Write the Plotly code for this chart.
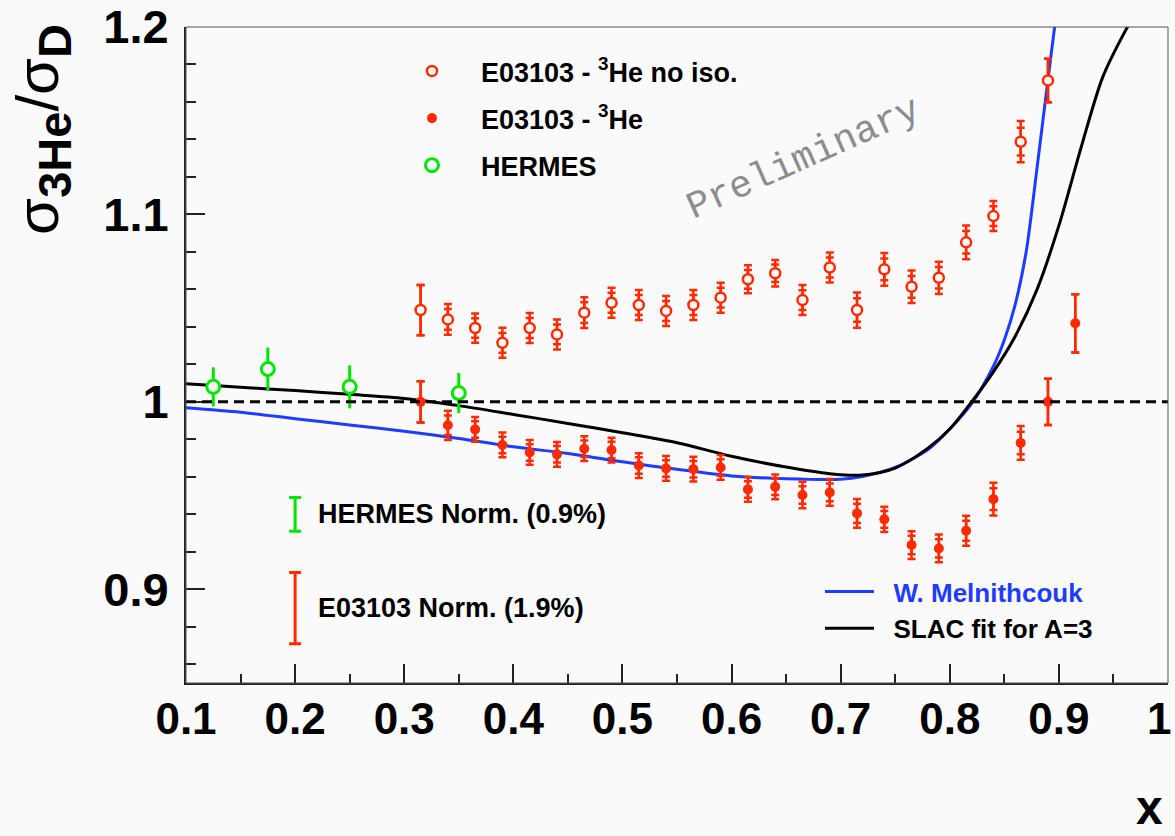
import plotly.graph_objects as go

# ---------------- data ----------------
x_e03103 = [0.315, 0.34, 0.365, 0.39, 0.415, 0.44, 0.465, 0.49, 0.515, 0.54, 0.565, 0.59,
            0.615, 0.64, 0.665, 0.69, 0.715, 0.74, 0.765, 0.79, 0.815, 0.84, 0.865, 0.89]
noiso_y = [1.049, 1.044, 1.0394, 1.0315, 1.0394, 1.036, 1.0476, 1.0529, 1.0517, 1.0485, 1.0517, 1.0556,
           1.0654, 1.0686, 1.0543, 1.0717, 1.049, 1.0707, 1.0614, 1.0662, 1.0851, 1.0991, 1.1388, 1.1715]
noiso_err_tot = [0.0134, 0.0082, 0.0078, 0.008, 0.008, 0.008, 0.0082, 0.008, 0.008, 0.008, 0.008, 0.008,
                 0.0075, 0.0071, 0.008, 0.008, 0.0094, 0.0087, 0.0087, 0.0086, 0.009, 0.008, 0.011, 0.0116]
noiso_err_stat = [0.0134, 0.0055, 0.0052, 0.0053, 0.0053, 0.0053, 0.0055, 0.0053, 0.0053, 0.0053, 0.0053, 0.0053,
                  0.005, 0.0047, 0.0053, 0.0053, 0.0063, 0.0058, 0.0058, 0.0057, 0.006, 0.0053, 0.0074, 0.0116]

x_he3 = [0.315, 0.34, 0.365, 0.39, 0.415, 0.44, 0.465, 0.49, 0.515, 0.54, 0.565, 0.59,
         0.615, 0.64, 0.665, 0.69, 0.715, 0.74, 0.765, 0.79, 0.815, 0.84, 0.865, 0.89, 0.915]
he3_y = [1.0, 0.9875, 0.9853, 0.977, 0.973, 0.972, 0.975, 0.9743, 0.966, 0.9645, 0.9641, 0.965,
         0.9533, 0.9547, 0.9503, 0.9517, 0.9405, 0.9373, 0.9236, 0.9218, 0.9312, 0.9481, 0.9781, 1.0, 1.0419]
he3_err_tot = [0.011, 0.0078, 0.0066, 0.0066, 0.0066, 0.0066, 0.0066, 0.0066, 0.0066, 0.0066, 0.0066, 0.0066,
               0.0066, 0.0066, 0.0071, 0.0071, 0.0077, 0.0068, 0.0074, 0.0074, 0.008, 0.0087, 0.009, 0.0123, 0.0155]
he3_err_stat = [0.011, 0.0052, 0.0044, 0.0044, 0.0044, 0.0044, 0.0044, 0.0044, 0.0044, 0.0044, 0.0044, 0.0044,
                0.0044, 0.0044, 0.0047, 0.0047, 0.0051, 0.0045, 0.0049, 0.0049, 0.0053, 0.0058, 0.006, 0.0123, 0.0155]

x_hermes = [0.125, 0.175, 0.25, 0.35]
hermes_y = [1.008, 1.0175, 1.008, 1.0047]
hermes_err = [0.0104, 0.0115, 0.0115, 0.0107]

x_melni = [0.10, 0.15, 0.20, 0.25, 0.30, 0.35, 0.40, 0.45, 0.50, 0.55, 0.60, 0.65, 0.70, 0.72,
           0.75, 0.78, 0.80, 0.82, 0.84, 0.85, 0.86, 0.87, 0.88, 0.89, 0.90]
melni_y = [0.9969, 0.9945, 0.991, 0.9877, 0.9843, 0.9805, 0.976, 0.9725, 0.968, 0.964, 0.9605, 0.959, 0.9587,
           0.9602, 0.965, 0.9745, 0.9855, 0.999, 1.019, 1.033, 1.052, 1.08, 1.125, 1.172, 1.218]

x_slac = [0.10, 0.15, 0.20, 0.25, 0.30, 0.35, 0.40, 0.45, 0.50, 0.55, 0.60, 0.65, 0.69, 0.72,
          0.75, 0.78, 0.80, 0.82, 0.84, 0.86, 0.88, 0.90, 0.92, 0.94, 0.96, 0.97]
slac_y = [1.0096, 1.0078, 1.006, 1.004, 1.0018, 0.998, 0.9933, 0.9885, 0.9835, 0.9782, 0.971, 0.9652, 0.9617,
          0.961, 0.9647, 0.9753, 0.9855, 1.0, 1.016, 1.035, 1.060, 1.094, 1.135, 1.173, 1.197, 1.207]

norm_x = [0.2, 0.2]
norm_y = [0.94, 0.89]
norm_err = [0.009, 0.019]
norm_labels = ["HERMES Norm. (0.9%)", "E03103 Norm. (1.9%)"]

x_ticks = [0.1, 0.2, 0.3, 0.4, 0.5, 0.6, 0.7, 0.8, 0.9, 1.0]
x_ticktext = ["0.1", "0.2", "0.3", "0.4", "0.5", "0.6", "0.7", "0.8", "0.9", "1"]
y_ticks = [0.9, 1.0, 1.1, 1.2]
y_ticktext = ["0.9", "1", "1.1", "1.2"]

# ---------------- style ----------------
RED = "#ff2a00"
GREEN = "#00e600"
BLUE = "#1e3cff"
BG = "#fafafa"
FONT = "Liberation Sans"
NB = "\u00a0"

fig = go.Figure()

# curves
fig.add_trace(go.Scatter(x=x_melni, y=melni_y, mode="lines",
                         line=dict(color=BLUE, width=3, shape="spline", smoothing=0.8),
                         name=NB * 2 + "<span style='color:%s'>W. Melnithcouk</span>" % BLUE, legend="legend2"))
fig.add_trace(go.Scatter(x=x_slac, y=slac_y, mode="lines",
                         line=dict(color="black", width=3, shape="spline", smoothing=0.8),
                         name=NB * 2 + "SLAC fit for A=3", legend="legend2"))

inv = dict(size=2, color="rgba(0,0,0,0)")
# error bars (no iso)
fig.add_trace(go.Scatter(x=x_e03103, y=noiso_y, mode="markers", marker=inv, showlegend=False,
                         error_y=dict(type="data", array=noiso_err_tot, color=RED, thickness=2.5, width=4)))
fig.add_trace(go.Scatter(x=x_e03103, y=noiso_y, mode="markers", marker=inv, showlegend=False,
                         error_y=dict(type="data", array=noiso_err_stat, color=RED, thickness=2.5, width=4)))
# error bars (3He)
fig.add_trace(go.Scatter(x=x_he3, y=he3_y, mode="markers", marker=inv, showlegend=False,
                         error_y=dict(type="data", array=he3_err_tot, color=RED, thickness=2.5, width=4)))
fig.add_trace(go.Scatter(x=x_he3, y=he3_y, mode="markers", marker=inv, showlegend=False,
                         error_y=dict(type="data", array=he3_err_stat, color=RED, thickness=2.5, width=4)))
# error bars HERMES
fig.add_trace(go.Scatter(x=x_hermes, y=hermes_y, mode="markers", marker=inv, showlegend=False,
                         error_y=dict(type="data", array=hermes_err, color=GREEN, thickness=3, width=0)))
# normalisation bars
fig.add_trace(go.Scatter(x=norm_x[:1], y=norm_y[:1], mode="markers", marker=inv, showlegend=False,
                         error_y=dict(type="data", array=norm_err[:1], color=GREEN, thickness=3, width=6)))
fig.add_trace(go.Scatter(x=norm_x[1:], y=norm_y[1:], mode="markers", marker=inv, showlegend=False,
                         error_y=dict(type="data", array=norm_err[1:], color=RED, thickness=3, width=6)))

# markers (legend entries)
fig.add_trace(go.Scatter(x=x_e03103, y=noiso_y, mode="markers", legendgroup="a",
                         marker=dict(symbol="circle", size=10, color=BG, line=dict(color=RED, width=2.5)),
                         name="E03103 - <sup>3</sup>He no iso.", legend="legend"))
fig.add_trace(go.Scatter(x=x_he3, y=he3_y, mode="markers", legendgroup="b",
                         marker=dict(symbol="circle", size=10, color=RED, line=dict(color=RED, width=0)),
                         name="E03103 - <sup>3</sup>He", legend="legend"))
fig.add_trace(go.Scatter(x=x_hermes, y=hermes_y, mode="markers", legendgroup="c",
                         marker=dict(symbol="circle", size=13, color=BG, line=dict(color=GREEN, width=3)),
                         name="HERMES", legend="legend"))

for xv, yv, txt in zip(norm_x, norm_y, norm_labels):
    fig.add_annotation(x=xv + 0.019, y=yv, text=txt, showarrow=False, xanchor="left", yanchor="middle",
                       font=dict(family=FONT, size=27, color="black", weight="bold"))

fig.add_annotation(x=0.6655, y=1.130, text="Preliminary", showarrow=False, textangle=-24,
                   font=dict(family="Liberation Mono", size=38, color="#8c8c8c"))

# last x tick label, kept inside the page (right-aligned at the axis end)
fig.add_annotation(x=x_ticks[-1], xref="x", y=0, yref="paper", yshift=-35, xshift=5,
                   xanchor="right", yanchor="middle", text=x_ticktext[-1], showarrow=False,
                   font=dict(family=FONT, size=44, color="black", weight="bold"))

# y-axis title
fig.add_annotation(xref="paper", yref="paper", x=-0.146, y=1.008, xanchor="center", yanchor="top",
                   text="σ<sub><span style='font-size:47px'><b>3He</b></span></sub>/σ"
                        "<sub><span style='font-size:47px'><b>D</b></span></sub>",
                   textangle=-90, showarrow=False,
                   font=dict(family=FONT, size=60, color="black", weight="normal"))
# x-axis title
fig.add_annotation(xref="paper", yref="paper", x=0.997, y=-0.190, xanchor="right", yanchor="middle",
                   text="x", showarrow=False,
                   font=dict(family=FONT, size=48, color="black", weight="bold"))

# unity line
fig.add_shape(type="line", xref="paper", yref="y", x0=0, x1=1, y0=1.0, y1=1.0,
              line=dict(color="black", width=3, dash="10px,6px"))
# frame
fig.add_shape(type="rect", xref="paper", yref="paper", x0=0, x1=1, y0=0, y1=1,
              line=dict(color="#555555", width=1))

fig.update_layout(
    width=1175, height=836,
    margin=dict(l=186, r=7, t=27, b=153, autoexpand=False),
    paper_bgcolor=BG, plot_bgcolor=BG,
    font=dict(family=FONT, color="black"),
    legend=dict(x=0.2006, y=0.9696, xanchor="left", yanchor="top", bgcolor="rgba(0,0,0,0)",
                font=dict(family=FONT, size=27, weight="bold"), itemwidth=88, tracegroupgap=9,
                traceorder="grouped"),
    legend2=dict(x=0.6456, y=0.1753, xanchor="left", yanchor="top", bgcolor="rgba(0,0,0,0)",
                 font=dict(family=FONT, size=26, weight="bold"), itemwidth=49),
    xaxis=dict(range=[0.1, 1.0], showgrid=False, zeroline=False, showline=True, linecolor="#222",
               linewidth=2, ticks="inside", ticklen=19, tickwidth=1.5, tickcolor="#222", automargin=False,
               tickvals=x_ticks[:-1], ticktext=x_ticktext[:-1], ticklabelstandoff=-4,
               tickfont=dict(family=FONT, size=44, weight="bold"),
               minor=dict(ticks="inside", ticklen=9, tickwidth=1.5, tickcolor="#222",
                          tickmode="linear", tick0=0.1, dtick=0.05, showgrid=False)),
    yaxis=dict(range=[0.85, 1.2], showgrid=False, zeroline=False, showline=True, linecolor="#222",
               linewidth=2, ticks="inside", ticklen=19, tickwidth=1.5, tickcolor="#222", automargin=False,
               tickvals=y_ticks, ticktext=y_ticktext, ticklabelstandoff=6, ticklabeloverflow="allow",
               tickfont=dict(family=FONT, size=47, weight="bold"),
               minor=dict(ticks="inside", ticklen=10, tickwidth=1.5, tickcolor="#222",
                          tickmode="linear", tick0=0.86, dtick=0.02, showgrid=False)),
)

fig.write_html("out.html")
